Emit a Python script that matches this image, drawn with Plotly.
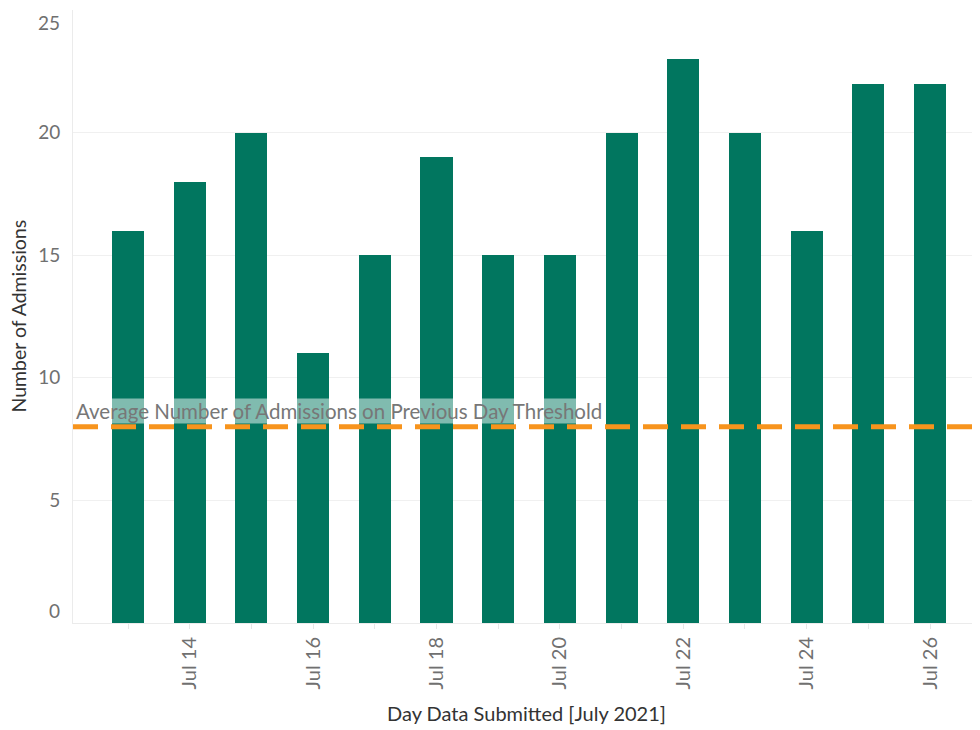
import plotly.graph_objects as go

dates = ["2021-07-13", "2021-07-14", "2021-07-15", "2021-07-16", "2021-07-17",
         "2021-07-18", "2021-07-19", "2021-07-20", "2021-07-21", "2021-07-22",
         "2021-07-23", "2021-07-24", "2021-07-25", "2021-07-26"]
admissions = [16, 18, 20, 11, 15, 19, 15, 15, 20, 23, 20, 16, 22, 22]
threshold = 8
threshold_label = "Average Number of Admissions on Previous Day Threshold"
y_ticks = [0, 5, 10, 15, 20, 25]

FONT = "Lato"
DAY_MS = 86400000
TICK_GRAY = "#707070"
TITLE_GRAY = "#333333"

fig = go.Figure()
fig.add_trace(go.Bar(
    x=dates, y=admissions, width=0.52 * DAY_MS,
    marker=dict(color="#01765F", line=dict(width=0)),
    showlegend=False,
))

fig.add_shape(type="line", xref="paper", x0=0, x1=1, yref="y", y0=threshold, y1=threshold,
              line=dict(color="#F7941D", width=5, dash="25px,13px"))

fig.add_annotation(xref="paper", x=0, xanchor="left", xshift=2,
                   yref="y", y=threshold, yanchor="bottom", yshift=3,
                   text=threshold_label, showarrow=False,
                   font=dict(family=FONT, size=20.5, color="#777777"),
                   bgcolor="rgba(255,255,255,0.5)", borderpad=0)

# end tick labels shifted inward (Tableau style)
fig.add_annotation(xref="paper", x=0, xanchor="right", xshift=-11,
                   yref="y", y=y_ticks[0], yanchor="middle", yshift=13,
                   text=str(y_ticks[0]), showarrow=False,
                   font=dict(family=FONT, size=19, color=TICK_GRAY))
fig.add_annotation(xref="paper", x=0, xanchor="right", xshift=-11,
                   yref="y", y=y_ticks[-1], yanchor="middle", yshift=-12,
                   text=str(y_ticks[-1]), showarrow=False,
                   font=dict(family=FONT, size=19, color=TICK_GRAY))

fig.add_annotation(xref="paper", x=0, xshift=-55, xanchor="center",
                   yref="paper", y=0.5, yanchor="middle",
                   text="Number of Admissions", textangle=-90, showarrow=False,
                   font=dict(family=FONT, size=19.5, color=TITLE_GRAY))
fig.add_annotation(xref="paper", x=0.5, xanchor="center",
                   yref="paper", y=0, yanchor="middle", yshift=-90,
                   text="Day Data Submitted [July 2021]", showarrow=False,
                   font=dict(family=FONT, size=20, color=TITLE_GRAY))

# The page places the figure 8px in from the top-left corner; sizes compensate.
fig.update_layout(
    width=972, height=722,
    margin=dict(l=65, r=0, t=2, b=107),
    paper_bgcolor="white", plot_bgcolor="white",
    font=dict(family=FONT),
    bargap=0,
    xaxis=dict(
        type="date",
        range=["2021-07-12 02:36", "2021-07-26 19:26"],
        tick0="2021-07-14", dtick=2 * DAY_MS,
        tickformat="%b %-d", tickangle=-90,
        tickfont=dict(family=FONT, size=20, color=TICK_GRAY),
        ticks="outside", ticklen=5, tickcolor="#e6e6e6",
        minor=dict(dtick=DAY_MS, tick0="2021-07-13", ticks="outside", ticklen=5,
                   tickcolor="#e6e6e6", showgrid=False),
        showgrid=False, showline=True, linecolor="#ebebeb", linewidth=1,
        zeroline=False,
    ),
    yaxis=dict(
        range=[0, 25], tickvals=y_ticks,
        ticktext=["" if v in (y_ticks[0], y_ticks[-1]) else str(v) for v in y_ticks],
        tickfont=dict(family=FONT, size=19, color=TICK_GRAY),
        ticks="", ticklabelstandoff=8,
        showgrid=True, gridcolor="#f0f0f0", gridwidth=1,
        showline=True, linecolor="#ebebeb", linewidth=1,
        zeroline=False,
    ),
)

fig.write_html("out.html")
